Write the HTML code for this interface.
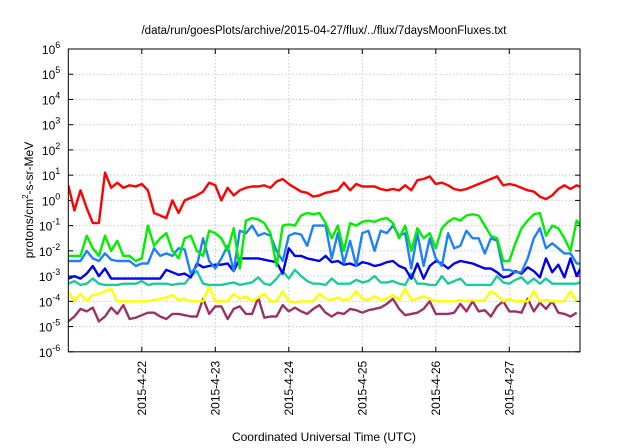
<!DOCTYPE html>
<html><head><meta charset="utf-8">
<style>
html,body{margin:0;padding:0;background:#fff;}
svg{display:block;font-family:"Liberation Sans",sans-serif;}
</style></head>
<body>
<svg id="chart" width="640" height="448" viewBox="0 0 640 448">
<text x="324" y="34" font-size="11.5" text-anchor="middle" fill="#000">/data/run/goesPlots/archive/2015-04-27/flux/../flux/7daysMoonFluxes.txt</text>
<text x="324" y="441" font-size="12" text-anchor="middle" fill="#000">Coordinated Universal Time (UTC)</text>
<text transform="translate(33,200) rotate(-90)" font-size="12" text-anchor="middle" fill="#000">protons/cm<tspan font-size="8" dy="-5">2</tspan><tspan dy="5">-s-sr-MeV</tspan></text>
<g id="grid"></g>
<g id="ticks"></g>
<g id="series"></g>
<rect x="68.3" y="49" width="511.7" height="302.8" fill="none" stroke="#000" stroke-width="1"/>
</svg>
<script>
const dayLabels = ["2015-4-22","2015-4-23","2015-4-24","2015-4-25","2015-4-26","2015-4-27"];
const decades = [-6,-5,-4,-3,-2,-1,0,1,2,3,4,5,6];
const red = [0.6,-0.4,0.4,-0.3,-0.9,-0.9,1.1,0.5,0.7,0.5,0.6,0.55,
0.65,0.4,-0.5,-0.6,-0.7,0,-0.5,0,0.1,0.2,0.35,0.7,
0.6,0.0,0.5,0.2,0.4,0.5,0.55,0.55,0.6,0.5,0.75,0.85,
0.65,0.5,0.35,0.3,0.15,0.2,0.3,0.35,0.4,0.7,0.4,0.65,
0.55,0.55,0.55,0.45,0.4,0.45,0.4,0.6,0.4,0.8,0.85,0.95,
0.65,0.7,0.6,0.45,0.4,0.45,0.55,0.65,0.75,0.85,0.95,0.6,0.65,0.6,0.5,0.4,0.35,0.15,0.05,0.2,0.45,0.6,0.45,0.6,0.5];
const green = [-2.2,-2.2,-2.2,-1.4,-1.9,-2.2,-1.4,-2.0,-1.6,-2.2,-2.2,-2.4,-2.3,-1.0,-1.8,-1.5,-1.3,-2.0,-2.3,-1.5,-1.4,-2.0,-2.2,-1.2,-1.3,-1.5,-2.0,-1.1,-2.7,-0.8,-0.7,-0.75,-0.9,-1.3,-2.6,-1.0,-0.95,-1.0,-0.6,-0.5,-0.55,-0.5,-0.9,
-1.5,-1.0,-2.0,-0.9,-1.0,-0.85,-0.8,-0.85,-0.75,-0.7,-0.9,-1.5,-1.0,-2.0,-1.1,-1.5,-1.3,-1.9,-1.1,-0.85,
-0.7,-0.8,-0.6,-0.55,-0.6,-1.0,-1.4,-1.5,-2.4,-2.4,-1.7,-1.1,-0.8,-0.55,-0.5,-1.4,-1.0,-1.1,-1.5,-2.0,-0.8,-1.1];
const lightBlue = [-2.4,-2.4,-2.4,-2.0,-2.3,-2.4,-2.1,-2.35,-2.4,-2.4,-2.4,-2.6,-2.5,-2.5,-1.9,-2.2,-2.1,-2.2,-1.9,-1.95,-2.9,-2.6,-1.5,-2.4,-2.7,-2.3,-1.8,-2.8,-1.2,-1.3,-1.0,-1.4,-1.3,-1.4,-2.0,-2.4,-1.4,-1.3,-1.35,-1.8,-1.0,-1.0,-1.0,
-2.3,-1.3,-2.5,-1.6,-2.6,-1.3,-1.2,-2.0,-1.2,-1.3,-1.0,-1.4,-1.3,-2.7,-1.3,-2.6,-1.5,-2.3,-2.6,-1.3,
-1.9,-1.8,-1.2,-1.5,-1.5,-2.1,-1.5,-1.6,-2.75,-2.75,-2.85,-2.85,-2.3,-1.5,-1.1,-1.9,-1.7,-1.9,-2.1,-2.1,-2.5,-2.5];
const darkBlue = [-3.1,-3.0,-3.1,-2.9,-2.6,-3.0,-2.7,-3.1,-3.1,-3.1,-3.1,-3.1,-3.1,-3.1,-3.1,-3.1,-2.75,-2.85,-2.95,-2.9,-3.05,-2.5,-2.65,-2.6,-2.55,-2.55,-2.5,-2.8,-2.3,-2.3,-2.3,-2.3,-2.35,-2.4,-2.45,-2.9,-1.9,-2.2,-2.2,-2.3,-2.35,-2.4,-2.2,
-2.45,-2.4,-2.55,-2.5,-2.6,-2.45,-2.5,-2.6,-2.55,-2.45,-2.4,-2.6,-2.7,-3.1,-2.5,-3.1,-2.6,-2.4,-2.5,-2.7,
-2.5,-2.4,-2.45,-2.5,-2.6,-2.7,-2.7,-2.85,-3.05,-3.0,-2.8,-2.9,-2.65,-2.8,-3.05,-2.3,-2.85,-2.55,-3.05,-2.3,-3.0,-2.5];
const teal = [-3.3,-3.2,-3.35,-3.3,-3.1,-3.3,-3.35,-3.35,-3.35,-3.3,-3.3,-3.3,-3.2,-3.35,-3.3,-3.3,-3.3,-3.35,-3.3,-3.3,-3.0,-2.8,-3.3,-3.35,-3.35,-3.35,-3.3,-3.25,-3.35,-3.3,-3.25,-3.05,-3.3,-3.35,-3.1,-2.8,-3.1,-2.75,-3.0,-3.2,-3.3,-3.3,-3.35,
-3.1,-3.3,-3.3,-3.3,-3.15,-3.25,-3.2,-3.0,-3.25,-3.25,-3.2,-3.3,-3.35,-2.9,-3.3,-3.3,-3.35,-3.35,-3.0,-3.3,
-3.2,-3.1,-3.35,-3.35,-3.35,-3.35,-3.35,-3.0,-3.25,-3.3,-3.15,-3.05,-3.3,-3.1,-3.3,-3.1,-3.3,-3.3,-3.3,-3.3,-3.3,-3.2];
const yellow = [-3.6,-4.0,-3.7,-4.0,-3.75,-3.7,-3.6,-3.5,-4.0,-4.0,-4.0,-4.0,-4.0,-4.0,-3.95,-3.9,-3.85,-3.75,-3.95,-3.9,-4.0,-4.0,-4.0,-3.4,-4.0,-4.0,-4.0,-3.7,-3.9,-3.8,-4.0,-3.85,-3.7,-4.0,-4.0,-3.6,-4.0,-4.05,-4.0,-4.0,-4.0,-3.7,-3.9,
-3.95,-3.85,-3.95,-3.9,-3.6,-3.9,-3.95,-3.8,-3.95,-3.9,-3.75,-3.95,-3.5,-3.95,-3.9,-3.8,-3.9,-4.0,-4.0,-4.0,
-4.0,-3.95,-4.0,-3.95,-4.0,-3.95,-3.6,-3.75,-4.0,-3.9,-4.0,-4.0,-4.0,-3.6,-4.0,-3.95,-4.0,-4.0,-4.0,-3.6,-4.0];
const purple = [-4.8,-4.6,-4.3,-4.4,-4.25,-4.8,-4.6,-4.25,-4.5,-4.15,-4.7,-4.65,-4.55,-4.45,-4.45,-4.6,-4.7,-4.5,-4.5,-4.55,-4.6,-4.6,-3.9,-4.5,-4.2,-4.2,-4.7,-4.3,-4.2,-4.5,-4.5,-3.85,-4.65,-4.6,-4.6,-4.15,-4.4,-4.25,-4.4,-4.5,-4.3,-4.15,-4.45,
-4.6,-4.45,-4.5,-4.3,-4.35,-4.45,-4.35,-4.3,-4.25,-4.1,-3.9,-4.3,-4.55,-4.5,-4.45,-4.3,-4.0,-4.5,-4.5,-4.5,
-4.45,-4.1,-4.4,-4.0,-4.4,-4.35,-4.6,-4.2,-4.0,-4.4,-4.4,-4.45,-3.9,-4.4,-4.05,-4.3,-4.0,-4.45,-4.5,-4.6,-4.45];
const seriesList = [
 {name:"series-purple", color:"#993366", data:purple},
 {name:"series-yellow", color:"#ffff00", data:yellow},
 {name:"series-teal", color:"#20c8a0", data:teal},
 {name:"series-dark-blue", color:"#0000ee", data:darkBlue},
 {name:"series-light-blue", color:"#1e80ff", data:lightBlue},
 {name:"series-green", color:"#00ee00", data:green},
 {name:"series-red", color:"#ff0000", data:red}
];
const NS="http://www.w3.org/2000/svg";
const L=68.3,R=580,T=49,B=351.8;
const stepsPerDay=12, dayW=73.5;
function xScale(i){return L+i*dayW/stepsPerDay;}
function yScale(v){return B-(v+6)*(B-T)/12;}
function mk(tag,attrs,parent){const e=document.createElementNS(NS,tag);for(const k in attrs)e.setAttribute(k,attrs[k]);parent.appendChild(e);return e;}
const grid=document.getElementById('grid'),ticks=document.getElementById('ticks'),ser=document.getElementById('series');
decades.forEach(d=>{
 const y=yScale(d);
 if(d>-6&&d<6){const g=mk('line',{x1:L,x2:R,y1:y,y2:y,stroke:'#c8c8c8','stroke-dasharray':'1.5,2'},grid);
 
 }
 const tl=mk('line',{x1:L,x2:L+5,y1:y,y2:y,stroke:'#000'},ticks);
 
 
 const tr=mk('line',{x1:R-5,x2:R,y1:y,y2:y,stroke:'#000'},ticks);
 
 
 const t=mk('text',{x:L-8,y:y+5,'font-size':'12','text-anchor':'end',fill:'#000'},ticks);
 
 
 const s1=document.createElementNS(NS,'tspan');s1.textContent='10';t.appendChild(s1);
 const s2=document.createElementNS(NS,'tspan');s2.setAttribute('font-size','9');s2.setAttribute('dy','-6');s2.textContent=String(d);t.appendChild(s2);
});
dayLabels.forEach((lab,k)=>{
 const x=xScale((k+1)*stepsPerDay);
 const g=mk('line',{x1:x,x2:x,y1:T,y2:B,stroke:'#c8c8c8','stroke-dasharray':'1.5,2'},grid);
 
 
 const tb=mk('line',{x1:x,x2:x,y1:B-5,y2:B,stroke:'#000'},ticks);
 
 
 const tt=mk('line',{x1:x,x2:x,y1:T,y2:T+5,stroke:'#000'},ticks);
 
 
 const t=mk('text',{transform:`translate(${x+4},${B+9}) rotate(-90)`,'font-size':'12','text-anchor':'end',fill:'#000'},ticks);
 
 
 t.textContent=lab;
});
const clip=mk('clipPath',{id:'pc'},document.getElementById('chart'));
mk('rect',{x:L,y:T,width:R-L,height:B-T},clip);
ser.setAttribute('clip-path','url(#pc)');
seriesList.forEach(s=>{
 const pts=s.data.map((v,i)=>xScale(i).toFixed(1)+','+yScale(v).toFixed(1)).join(' ');
 const p=mk('polyline',{points:pts,fill:'none',stroke:s.color,'stroke-width':'2.4','stroke-linejoin':'round'},ser);
 
 
});
</script>
</body></html>
